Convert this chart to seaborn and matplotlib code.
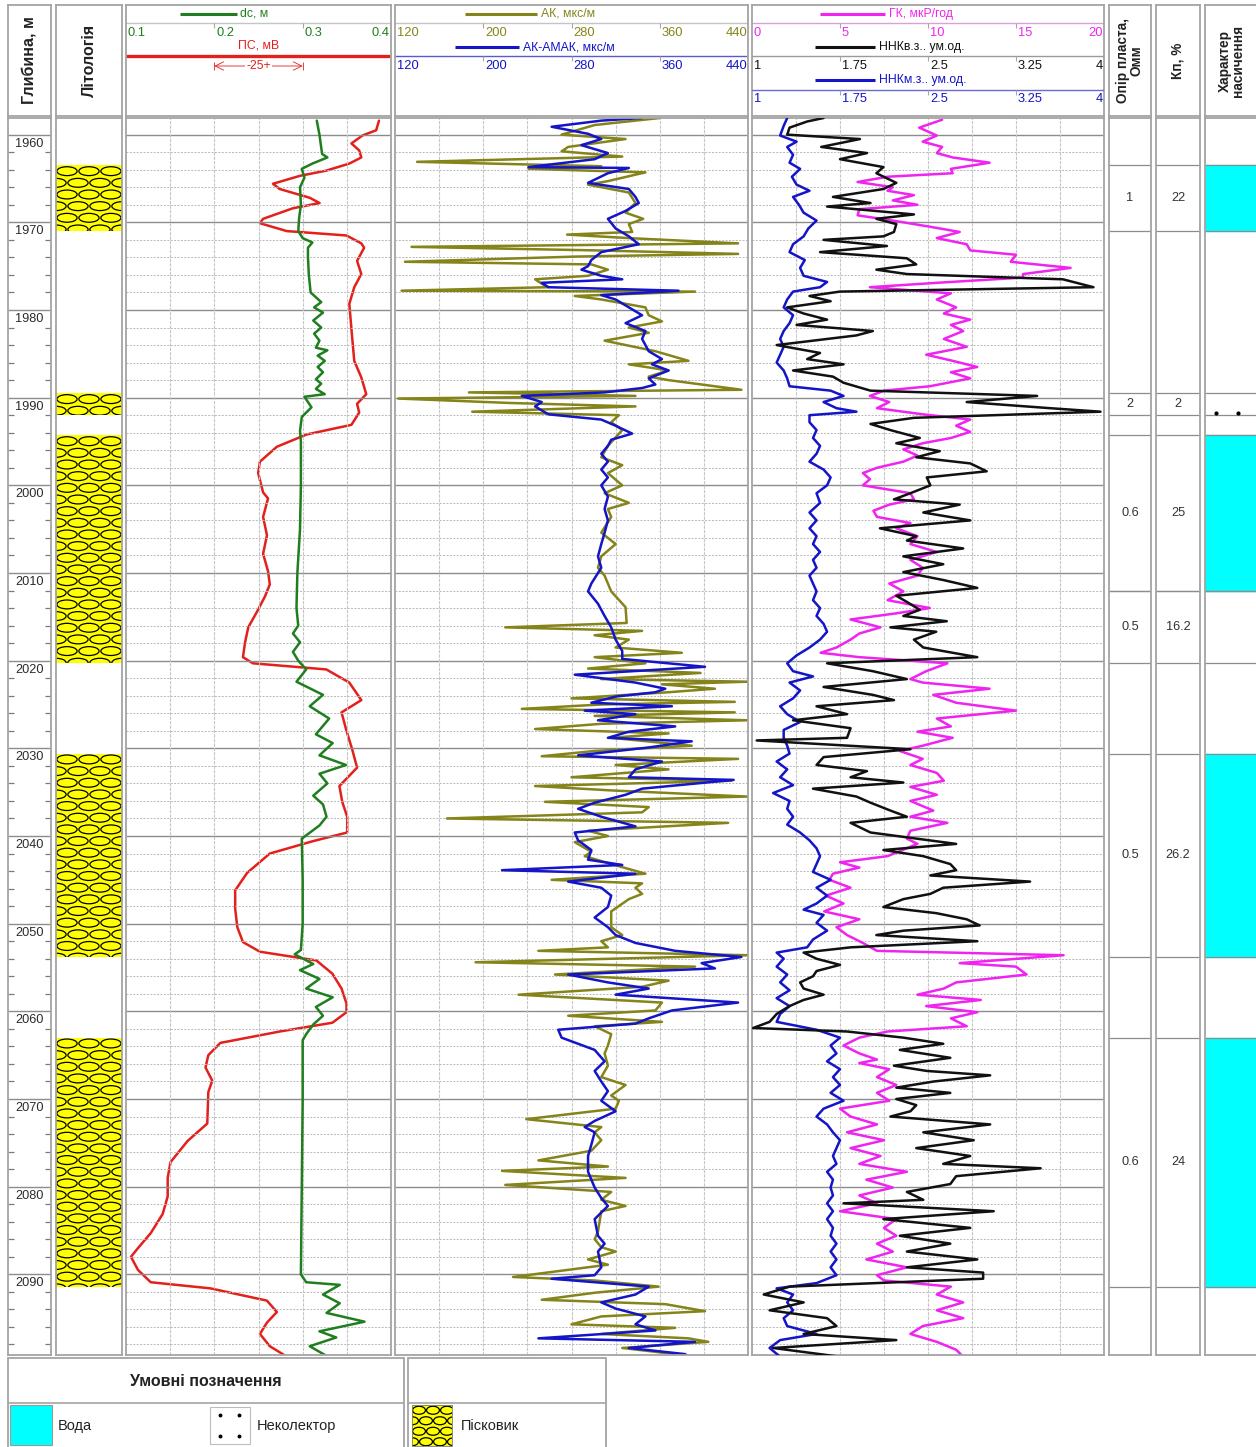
import numpy as np
import matplotlib
matplotlib.use("Agg")
import matplotlib.pyplot as plt
import seaborn as sns
from matplotlib.patches import Rectangle, Ellipse
from matplotlib.transforms import blended_transform_factory, offset_copy

sns.set_theme(style="white")
plt.rcParams['font.family'] = ['Liberation Sans', 'DejaVu Sans']

depth_top, depth_bottom = 1958.1, 2099.2
depth_ticks = list(range(1960, 2100, 10))

# dc, m
dc_depth = [1958.4, 1960.0, 1962.2, 1962.6, 1963.3, 1963.9, 1964.9, 1966.0, 1968.0, 1969.5,
            1971.0, 1971.8, 1972.3, 1972.9, 1974.0, 1976.0, 1978.0, 1979.1, 1979.7, 1980.3,
            1981.2, 1982.0, 1982.7, 1983.5, 1984.3, 1984.6, 1985.2, 1985.8, 1986.5, 1987.1,
            1987.9, 1988.4, 1989.0, 1989.6, 1989.9, 1991.1, 1992.2, 1993.8, 1995.0, 2000.0,
            2005.0, 2010.0, 2014.0, 2016.0, 2016.9, 2017.9, 2019.0, 2020.0, 2021.0, 2022.4,
            2023.9, 2025.2, 2026.6, 2028.4, 2029.4, 2030.8, 2031.9, 2032.9, 2034.0, 2035.4,
            2036.4, 2037.8, 2038.8, 2040.3, 2045.0, 2050.0, 2053.0, 2053.5, 2054.6, 2055.3,
            2056.3, 2057.4, 2058.4, 2059.5, 2060.5, 2061.5, 2062.6, 2063.3, 2070.0, 2080.0,
            2090.0, 2090.9, 2091.2, 2092.3, 2093.3, 2094.4, 2095.4, 2096.5, 2097.2, 2098.2,
            2099.3]
dc_val = [0.316, 0.319, 0.322, 0.328, 0.311, 0.299, 0.302, 0.297, 0.298, 0.296,
          0.295, 0.300, 0.311, 0.306, 0.306, 0.307, 0.309, 0.321, 0.313, 0.323,
          0.312, 0.321, 0.313, 0.319, 0.315, 0.328, 0.317, 0.325, 0.317, 0.323,
          0.315, 0.321, 0.315, 0.325, 0.302, 0.310, 0.299, 0.297, 0.298, 0.298,
          0.297, 0.294, 0.293, 0.295, 0.289, 0.297, 0.289, 0.295, 0.304, 0.293,
          0.323, 0.308, 0.330, 0.315, 0.334, 0.319, 0.349, 0.319, 0.328, 0.312,
          0.323, 0.327, 0.319, 0.299, 0.300, 0.300, 0.298, 0.291, 0.312, 0.297,
          0.319, 0.304, 0.334, 0.315, 0.323, 0.312, 0.304, 0.300, 0.300, 0.299,
          0.298, 0.304, 0.342, 0.323, 0.342, 0.327, 0.370, 0.319, 0.338, 0.308,
          0.327]

# ПС, mV (relative)
ps_depth = [1958.4, 1959.5, 1960.1, 1961.0, 1961.8, 1962.6, 1963.3, 1964.1, 1964.7, 1965.6,
            1966.2, 1967.2, 1967.8, 1968.4, 1969.6, 1970.1, 1971.0, 1971.5, 1972.4, 1972.9,
            1974.4, 1975.9, 1977.4, 1979.3, 1983.1, 1985.8, 1987.7, 1989.6, 1990.7, 1991.7,
            1993.1, 1994.2, 1995.6, 1997.3, 1998.6, 2000.8, 2001.5, 2003.6, 2005.7, 2007.8,
            2009.8, 2011.3, 2012.7, 2014.4, 2016.2, 2017.9, 2019.6, 2020.3, 2021.0, 2022.5,
            2024.5, 2025.9, 2028.0, 2030.1, 2032.2, 2034.3, 2036.1, 2037.8, 2039.6, 2040.6,
            2042.0, 2044.2, 2046.2, 2048.3, 2050.4, 2052.1, 2053.2, 2054.2, 2055.7, 2057.4,
            2059.1, 2060.1, 2061.3, 2062.3, 2063.6, 2065.0, 2066.4, 2067.9, 2069.2, 2072.8,
            2074.8, 2077.2, 2079.0, 2081.1, 2083.1, 2085.3, 2087.0, 2088.0, 2089.5, 2090.9,
            2091.6, 2093.0, 2094.3, 2095.5, 2096.8, 2098.2, 2099.8]
ps_mv = [-3.4, -4.2, -8.1, -11.2, -9.0, -8.4, -11.8, -18.3, -25.8, -33.4,
         -31.5, -23.0, -20.2, -27.8, -36.2, -37.1, -29.5, -12.6, -8.4, -7.6,
         -9.6, -8.4, -10.4, -11.8, -11.0, -10.4, -8.4, -7.0, -9.6, -9.0,
         -11.2, -23.9, -32.3, -37.1, -37.6, -36.2, -34.8, -36.2, -35.1, -36.2,
         -34.8, -34.3, -35.7, -37.9, -40.4, -41.3, -41.9, -39.1, -18.3, -11.8,
         -8.4, -14.0, -12.6, -11.0, -9.6, -14.6, -13.8, -12.4, -12.4, -22.2,
         -34.3, -40.7, -44.1, -44.1, -43.5, -41.9, -37.1, -21.1, -16.6, -14.0,
         -12.6, -12.6, -16.6, -31.5, -48.3, -51.7, -52.5, -50.6, -51.7, -52.0,
         -57.6, -62.4, -63.2, -63.2, -64.6, -68.0, -71.6, -73.6, -71.6, -68.0,
         -51.1, -35.1, -32.3, -35.1, -37.1, -34.3, -27.8]

# АК, мкс/м
ak_depth = [1958.1, 1958.9, 1960.0, 1960.5, 1961.4, 1961.9, 1962.5, 1963.1, 1963.6, 1963.9,
            1964.3, 1965.3, 1965.7, 1966.6, 1967.8, 1968.9, 1969.6, 1970.2, 1971.1, 1971.4,
            1971.8, 1972.4, 1972.8, 1973.2, 1973.6, 1973.9, 1974.5, 1974.8, 1975.4, 1976.1,
            1976.5, 1977.0, 1977.4, 1977.8, 1977.9, 1978.4, 1978.8, 1979.7, 1980.6, 1981.3,
            1982.0, 1982.6, 1983.5, 1984.7, 1985.8, 1986.2, 1986.9, 1987.6, 1988.0, 1989.1,
            1989.4, 1989.8, 1990.1, 1990.6, 1991.0, 1991.6, 1992.0, 1992.8, 1993.7, 1995.5,
            1996.8, 1997.7, 1998.6, 2000.0, 2000.9, 2002.0, 2002.7, 2003.6, 2005.4, 2006.7,
            2008.1, 2009.4, 2010.3, 2012.1, 2013.9, 2015.7, 2016.2, 2016.6, 2017.1, 2017.6,
            2018.5, 2019.1, 2019.6, 2020.3, 2020.9, 2021.4, 2022.1, 2022.4, 2022.7, 2023.2,
            2023.6, 2024.3, 2024.7, 2025.0, 2025.5, 2025.9, 2026.3, 2026.8, 2027.2, 2027.8,
            2028.3, 2028.8, 2029.7, 2030.3, 2030.9, 2031.2, 2031.9, 2032.4, 2033.3, 2033.7,
            2034.3, 2034.8, 2035.5, 2036.1, 2036.7, 2037.3, 2038.0, 2038.5, 2039.4, 2040.0,
            2040.7, 2041.8, 2042.3, 2043.2, 2044.3, 2045.0, 2045.4, 2045.9, 2046.6, 2047.2,
            2048.6, 2050.4, 2051.3, 2052.0, 2052.7, 2053.1, 2053.6, 2054.4, 2054.9, 2055.8,
            2056.5, 2057.2, 2058.1, 2059.0, 2059.9, 2060.5, 2061.2, 2061.7, 2062.6, 2063.9,
            2064.8, 2066.2, 2067.5, 2068.4, 2069.6, 2070.2, 2071.1, 2072.3, 2073.2, 2073.8,
            2074.7, 2075.9, 2077.0, 2077.7, 2078.2, 2079.0, 2079.8, 2080.6, 2081.5, 2082.2,
            2082.8, 2085.1, 2086.0, 2086.9, 2087.4, 2088.3, 2088.9, 2090.3, 2090.7, 2091.4,
            2092.1, 2092.9, 2093.4, 2094.2, 2094.8, 2095.7, 2096.1, 2096.8, 2097.3, 2097.7,
            2098.4, 2099.1, 2099.4]
ak_val = [360, 301, 271, 329, 277, 271, 326, 140, 307, 241,
          347, 313, 295, 332, 338, 329, 345, 332, 335, 276,
          332, 431, 135, 301, 431, 286, 129, 298, 313, 295,
          247, 253, 259, 126, 392, 283, 307, 347, 350, 362,
          332, 350, 310, 356, 386, 332, 368, 350, 368, 434,
          187, 338, 123, 223, 338, 190, 323, 316, 326, 313,
          307, 326, 313, 326, 310, 332, 313, 316, 307, 320,
          307, 304, 310, 316, 329, 330, 220, 344, 301, 332,
          320, 380, 301, 347, 295, 397, 307, 439, 362, 410,
          368, 280, 428, 307, 235, 428, 301, 439, 307, 247,
          368, 316, 389, 301, 253, 431, 320, 368, 280, 425,
          247, 316, 439, 256, 350, 344, 167, 422, 295, 313,
          283, 298, 292, 316, 347, 262, 344, 338, 344, 332,
          316, 316, 326, 307, 313, 250, 440, 193, 392, 265,
          368, 344, 232, 362, 356, 277, 362, 301, 316, 313,
          310, 313, 307, 329, 316, 323, 320, 239, 307, 301,
          307, 298, 250, 313, 217, 329, 220, 316, 307, 329,
          307, 304, 301, 307, 320, 295, 313, 227, 301, 359,
          301, 253, 365, 401, 307, 280, 374, 307, 386, 404,
          326, 374, 368]

# АК-АМАК, мкс/м
amak_depth = [1958.1, 1958.4, 1959.1, 1959.9, 1960.5, 1961.2, 1962.1, 1962.8, 1963.7, 1963.8,
              1964.4, 1965.5, 1966.2, 1967.1, 1967.8, 1968.7, 1969.6, 1970.7, 1971.6, 1972.5,
              1973.4, 1974.3, 1975.0, 1975.4, 1976.1, 1976.5, 1976.9, 1977.4, 1977.8, 1978.3,
              1978.8, 1979.7, 1980.6, 1981.5, 1982.4, 1983.3, 1984.7, 1985.6, 1986.2, 1986.9,
              1987.8, 1988.5, 1988.9, 1989.4, 1989.8, 1990.5, 1991.0, 1991.9, 1992.5, 1993.2,
              1994.1, 1994.8, 1995.5, 1996.4, 1997.3, 1998.2, 1999.1, 2000.0, 2001.3, 2002.7,
              2004.0, 2005.4, 2006.7, 2008.1, 2009.4, 2011.2, 2012.1, 2013.5, 2014.9, 2016.2,
              2017.6, 2018.9, 2019.8, 2020.7, 2021.6, 2022.5, 2023.2, 2023.6, 2024.1, 2024.8,
              2025.2, 2025.7, 2026.1, 2026.8, 2027.5, 2028.1, 2028.8, 2029.2, 2029.9, 2030.8,
              2031.5, 2032.4, 2033.3, 2033.6, 2034.6, 2035.3, 2036.2, 2036.9, 2037.8, 2038.9,
              2039.6, 2040.5, 2041.6, 2042.7, 2043.3, 2043.9, 2044.3, 2045.2, 2045.9, 2046.8,
              2048.1, 2049.3, 2050.4, 2051.3, 2052.2, 2053.1, 2053.8, 2054.5, 2055.1, 2055.8,
              2056.7, 2057.4, 2058.1, 2059.0, 2059.9, 2060.8, 2061.4, 2062.1, 2063.0, 2064.4,
              2065.7, 2066.8, 2068.0, 2069.1, 2070.2, 2071.4, 2072.5, 2073.2, 2073.8, 2075.2,
              2076.5, 2078.3, 2080.1, 2081.3, 2082.2, 2083.7, 2085.6, 2086.5, 2087.4, 2089.2,
              2090.1, 2090.5, 2091.4, 2092.3, 2093.2, 2093.9, 2094.8, 2095.7, 2096.4, 2097.3,
              2097.7, 2098.4, 2099.1, 2099.4]
amak_val = [344, 307, 262, 295, 307, 289, 313, 301, 241, 332,
            313, 295, 332, 338, 341, 329, 313, 320, 332, 341,
            307, 298, 295, 289, 307, 326, 253, 259, 377, 307,
            320, 332, 344, 329, 347, 344, 350, 362, 353, 368,
            350, 356, 344, 310, 235, 253, 247, 259, 307, 320,
            335, 316, 313, 307, 313, 307, 313, 307, 313, 310,
            313, 310, 307, 304, 307, 298, 295, 304, 310, 316,
            320, 326, 326, 401, 283, 338, 365, 356, 320, 298,
            371, 292, 338, 304, 374, 332, 313, 389, 350, 286,
            362, 338, 332, 427, 344, 329, 301, 286, 307, 338,
            283, 286, 298, 295, 326, 217, 338, 277, 307, 316,
            313, 301, 313, 320, 338, 374, 434, 398, 410, 277,
            313, 350, 320, 431, 371, 350, 338, 268, 271, 301,
            310, 301, 307, 313, 307, 320, 301, 292, 301, 298,
            295, 295, 301, 307, 313, 301, 304, 310, 304, 307,
            301, 262, 350, 338, 307, 320, 347, 338, 356, 250,
            392, 332, 383, 386]

# ГК, мкР/год
gk_depth = [1958.3, 1959.2, 1960.1, 1960.8, 1961.4, 1962.1, 1962.6, 1963.2, 1963.9, 1964.4,
            1964.8, 1965.4, 1966.0, 1966.4, 1966.9, 1967.5, 1968.0, 1968.5, 1969.2, 1969.8,
            1970.5, 1971.1, 1971.8, 1972.5, 1973.2, 1973.7, 1974.5, 1975.2, 1975.9, 1976.3,
            1976.9, 1977.4, 1978.1, 1978.8, 1979.7, 1980.4, 1981.1, 1981.7, 1982.4, 1983.3,
            1984.2, 1985.1, 1985.8, 1986.5, 1987.1, 1987.8, 1988.7, 1989.2, 1989.8, 1990.5,
            1991.2, 1991.9, 1992.5, 1993.2, 1993.9, 1994.6, 1995.2, 1995.9, 1996.6, 1997.3,
            1998.0, 1998.6, 1999.3, 2000.0, 2000.9, 2001.6, 2002.2, 2002.9, 2003.6, 2004.3,
            2004.9, 2005.8, 2006.7, 2007.6, 2008.5, 2009.4, 2010.3, 2011.2, 2012.1, 2013.1,
            2014.0, 2014.6, 2015.3, 2016.2, 2016.9, 2017.6, 2018.5, 2019.1, 2019.6, 2020.3,
            2021.2, 2022.1, 2022.5, 2023.2, 2023.9, 2024.8, 2025.7, 2026.6, 2027.5, 2028.1,
            2028.8, 2029.7, 2030.3, 2031.2, 2031.9, 2032.8, 2033.7, 2034.4, 2035.3, 2036.0,
            2037.1, 2037.8, 2038.5, 2039.4, 2040.3, 2040.9, 2042.3, 2043.0, 2043.6, 2044.3,
            2045.0, 2045.9, 2046.8, 2047.7, 2048.6, 2049.5, 2050.4, 2051.3, 2052.2, 2053.1,
            2053.6, 2054.5, 2054.9, 2055.8, 2056.7, 2057.4, 2058.1, 2058.7, 2059.4, 2060.1,
            2060.8, 2061.7, 2062.3, 2063.0, 2063.9, 2064.8, 2065.5, 2065.9, 2066.6, 2067.5,
            2068.4, 2069.3, 2070.2, 2071.1, 2072.0, 2072.9, 2073.8, 2074.7, 2075.6, 2076.5,
            2077.4, 2078.3, 2079.2, 2080.1, 2081.0, 2081.9, 2082.8, 2083.7, 2084.7, 2085.6,
            2086.5, 2087.4, 2088.3, 2089.2, 2090.1, 2090.7, 2091.4, 2092.3, 2093.2, 2094.1,
            2095.0, 2095.9, 2096.8, 2097.7, 2098.6, 2099.4]
gk_val = [10.8, 9.5, 10.5, 9.7, 10.8, 10.5, 11.4, 13.5, 11.3, 11.4,
          7.7, 6.0, 8.0, 7.7, 9.2, 8.0, 9.4, 6.1, 6.0, 8.0,
          10.1, 11.8, 10.5, 12.2, 12.4, 15.0, 14.7, 18.1, 15.4, 15.4,
          10.5, 6.7, 11.3, 10.5, 11.6, 10.9, 12.4, 11.3, 12.0, 10.9,
          12.2, 9.9, 11.4, 12.8, 11.3, 12.4, 10.1, 7.5, 6.7, 7.8,
          7.1, 9.7, 12.4, 11.6, 12.4, 11.3, 9.7, 8.6, 9.4, 8.6,
          7.1, 6.3, 6.7, 6.3, 9.0, 9.2, 7.8, 6.9, 7.1, 9.0,
          8.2, 9.4, 9.0, 10.5, 9.0, 9.7, 9.4, 7.8, 8.6, 7.7,
          10.1, 8.2, 5.6, 7.3, 6.1, 5.6, 4.8, 3.9, 6.1, 11.1,
          9.9, 9.0, 9.7, 13.5, 10.3, 11.6, 15.0, 10.5, 11.3, 9.4,
          11.4, 9.7, 8.4, 9.7, 9.0, 10.5, 10.9, 9.0, 10.5, 9.0,
          10.3, 9.0, 11.1, 9.0, 8.8, 9.4, 7.7, 5.0, 6.1, 4.6,
          4.4, 5.6, 4.2, 5.2, 4.1, 6.1, 4.8, 5.4, 6.3, 7.1,
          17.7, 11.8, 15.0, 15.6, 11.6, 10.9, 9.4, 13.0, 9.9, 12.8,
          11.3, 12.2, 7.7, 6.1, 5.2, 6.1, 7.1, 6.1, 7.8, 7.1,
          8.2, 7.1, 7.8, 5.0, 5.6, 7.1, 5.4, 7.5, 5.6, 7.3,
          6.1, 8.8, 6.5, 8.0, 6.1, 7.1, 5.0, 8.2, 7.5, 8.2,
          7.1, 8.0, 6.5, 8.8, 7.1, 7.5, 11.3, 10.5, 12.0, 10.5,
          12.0, 9.7, 9.0, 10.5, 11.6, 12.0]

# ННК в.з., ум.од.
nvz_depth = [1958.1, 1958.5, 1959.2, 1960.0, 1960.5, 1961.4, 1962.1, 1962.8, 1963.7, 1964.4,
             1965.5, 1966.2, 1967.1, 1967.8, 1968.2, 1969.1, 1969.6, 1970.2, 1971.1, 1971.6,
             1972.0, 1972.7, 1973.4, 1974.1, 1974.8, 1975.4, 1975.9, 1976.5, 1977.4, 1977.9,
             1978.4, 1979.0, 1979.7, 1980.4, 1981.1, 1981.7, 1982.4, 1982.9, 1984.0, 1984.9,
             1985.6, 1986.2, 1986.9, 1987.6, 1988.3, 1989.2, 1989.8, 1990.5, 1991.2, 1991.6,
             1992.3, 1993.0, 1993.7, 1994.6, 1995.2, 1996.1, 1996.8, 1997.5, 1998.4, 1999.1,
             2000.0, 2000.9, 2001.6, 2002.2, 2003.1, 2004.0, 2004.9, 2005.8, 2006.3, 2007.2,
             2008.1, 2009.0, 2009.9, 2010.8, 2011.7, 2012.6, 2013.3, 2014.2, 2014.9, 2015.5,
             2016.2, 2016.7, 2017.6, 2018.5, 2019.6, 2020.3, 2021.2, 2022.1, 2023.0, 2023.9,
             2024.5, 2025.2, 2026.1, 2026.8, 2027.7, 2028.8, 2029.1, 2030.1, 2031.0, 2031.9,
             2032.6, 2033.3, 2033.9, 2034.6, 2035.5, 2036.2, 2037.1, 2037.8, 2038.5, 2039.6,
             2040.3, 2040.9, 2041.6, 2042.3, 2043.2, 2043.9, 2044.5, 2045.2, 2045.9, 2046.6,
             2047.2, 2048.1, 2048.8, 2049.5, 2050.2, 2050.8, 2051.3, 2052.0, 2052.7, 2053.3,
             2054.0, 2054.7, 2055.4, 2056.0, 2056.7, 2057.4, 2058.1, 2058.7, 2059.4, 2060.3,
             2061.2, 2061.9, 2062.3, 2063.0, 2063.7, 2064.4, 2065.3, 2066.2, 2066.8, 2067.3,
             2068.0, 2068.7, 2069.3, 2070.0, 2070.7, 2071.4, 2072.0, 2072.9, 2073.8, 2074.7,
             2075.6, 2076.5, 2077.4, 2077.9, 2078.8, 2079.7, 2080.6, 2081.5, 2081.9, 2082.8,
             2083.7, 2084.7, 2085.6, 2086.5, 2087.4, 2088.3, 2089.2, 2089.8, 2090.5, 2091.4,
             2092.3, 2093.2, 2094.1, 2095.0, 2095.9, 2096.8, 2097.5, 2098.4, 2099.4]
nvz_val = [1.61, 1.47, 1.32, 1.30, 1.92, 1.59, 1.98, 1.75, 2.12, 2.06,
           2.23, 2.12, 1.69, 2.01, 1.64, 2.38, 2.06, 2.23, 2.21, 2.12,
           1.61, 2.15, 1.58, 2.32, 2.40, 2.06, 2.32, 3.65, 3.91, 1.75,
           1.49, 1.67, 1.30, 1.44, 1.64, 1.38, 2.03, 1.89, 1.21, 1.58,
           1.47, 1.78, 1.35, 1.69, 1.78, 2.01, 3.43, 2.83, 3.54, 3.97,
           2.38, 2.01, 2.18, 2.43, 2.23, 2.60, 2.40, 2.86, 3.00, 2.49,
           2.52, 2.35, 2.21, 2.77, 2.46, 2.86, 2.09, 2.40, 2.32, 2.80,
           2.29, 2.63, 2.29, 2.63, 2.92, 2.23, 2.32, 2.43, 2.29, 2.66,
           2.18, 2.57, 2.38, 2.46, 2.92, 1.64, 2.03, 2.32, 1.61, 2.03,
           2.21, 1.55, 1.81, 1.35, 1.84, 1.81, 1.04, 2.35, 1.61, 1.55,
           1.98, 1.84, 2.29, 1.52, 1.89, 2.01, 2.18, 2.32, 1.84, 2.01,
           2.40, 2.74, 2.12, 2.46, 2.69, 2.74, 2.52, 3.37, 2.63, 2.52,
           2.29, 2.12, 2.57, 2.83, 2.94, 2.29, 2.06, 2.92, 1.84, 1.44,
           1.55, 1.75, 1.55, 1.52, 1.41, 1.44, 1.61, 1.44, 1.32, 1.21,
           1.15, 1.01, 1.81, 2.29, 2.63, 2.26, 2.69, 2.21, 2.49, 3.03,
           2.55, 2.23, 2.69, 2.23, 2.40, 2.35, 2.18, 3.03, 2.46, 2.89,
           2.40, 2.86, 2.63, 3.46, 2.74, 2.69, 2.32, 2.46, 1.78, 3.06,
           2.12, 2.86, 2.26, 2.69, 2.32, 2.92, 2.32, 2.97, 2.97, 1.32,
           1.10, 1.44, 1.15, 1.64, 1.72, 1.44, 2.23, 1.18, 1.75]

# ННК м.з., ум.од.
nmz_depth = [1958.1, 1959.0, 1960.1, 1960.8, 1961.4, 1962.3, 1963.2, 1963.9, 1964.8, 1965.7,
             1966.4, 1967.1, 1968.0, 1968.9, 1969.8, 1970.7, 1971.6, 1972.5, 1973.4, 1974.3,
             1975.2, 1976.1, 1976.8, 1977.4, 1977.9, 1978.8, 1979.7, 1980.6, 1981.5, 1982.4,
             1983.3, 1984.2, 1985.1, 1986.0, 1986.9, 1987.8, 1988.7, 1989.2, 1989.8, 1990.5,
             1991.2, 1991.6, 1992.0, 1992.8, 1993.7, 1994.6, 1995.5, 1996.4, 1997.3, 1998.2,
             1999.1, 2000.0, 2000.9, 2002.0, 2003.1, 2004.0, 2004.9, 2005.8, 2006.7, 2007.6,
             2008.5, 2009.4, 2010.3, 2011.2, 2012.1, 2013.1, 2014.0, 2014.9, 2015.8, 2016.7,
             2017.6, 2018.5, 2019.4, 2020.3, 2021.2, 2021.8, 2022.5, 2023.4, 2024.3, 2025.2,
             2026.1, 2027.0, 2027.9, 2028.8, 2029.7, 2030.6, 2031.5, 2032.4, 2033.3, 2034.2,
             2035.1, 2036.0, 2036.9, 2037.8, 2038.7, 2039.6, 2040.5, 2041.4, 2042.3, 2043.2,
             2044.1, 2045.0, 2045.9, 2046.8, 2047.7, 2048.4, 2049.0, 2049.9, 2050.8, 2051.8,
             2052.7, 2053.3, 2054.0, 2054.9, 2055.8, 2056.7, 2057.6, 2058.5, 2059.4, 2060.3,
             2061.2, 2062.1, 2063.0, 2063.9, 2064.8, 2065.7, 2066.6, 2067.5, 2068.4, 2069.3,
             2070.2, 2071.1, 2072.0, 2072.9, 2073.8, 2074.7, 2075.6, 2076.5, 2077.4, 2078.3,
             2079.2, 2080.1, 2081.0, 2081.9, 2082.8, 2083.7, 2084.7, 2085.6, 2086.5, 2087.4,
             2088.3, 2089.2, 2090.1, 2091.0, 2091.6, 2092.3, 2093.2, 2094.1, 2095.0, 2095.9,
             2096.8, 2097.5, 2098.4, 2099.4]
nmz_val = [1.30, 1.27, 1.24, 1.38, 1.30, 1.35, 1.32, 1.41, 1.34, 1.38,
           1.49, 1.35, 1.40, 1.44, 1.55, 1.48, 1.44, 1.35, 1.32, 1.45,
           1.41, 1.44, 1.64, 1.58, 1.35, 1.30, 1.27, 1.35, 1.32, 1.27,
           1.24, 1.27, 1.24, 1.21, 1.27, 1.30, 1.32, 1.67, 1.78, 1.61,
           1.72, 1.89, 1.49, 1.49, 1.55, 1.52, 1.58, 1.55, 1.49, 1.61,
           1.67, 1.64, 1.55, 1.58, 1.49, 1.55, 1.49, 1.55, 1.52, 1.58,
           1.52, 1.55, 1.49, 1.52, 1.55, 1.52, 1.58, 1.55, 1.61, 1.64,
           1.58, 1.49, 1.38, 1.30, 1.35, 1.52, 1.32, 1.41, 1.35, 1.24,
           1.30, 1.41, 1.27, 1.27, 1.30, 1.32, 1.21, 1.30, 1.24, 1.35,
           1.18, 1.32, 1.30, 1.35, 1.30, 1.41, 1.49, 1.55, 1.58, 1.55,
           1.52, 1.67, 1.55, 1.64, 1.55, 1.44, 1.61, 1.55, 1.64, 1.52,
           1.47, 1.21, 1.27, 1.21, 1.30, 1.24, 1.32, 1.21, 1.32, 1.24,
           1.21, 1.55, 1.75, 1.67, 1.72, 1.64, 1.75, 1.69, 1.75, 1.67,
           1.78, 1.61, 1.55, 1.64, 1.69, 1.75, 1.72, 1.69, 1.72, 1.64,
           1.69, 1.67, 1.69, 1.64, 1.69, 1.64, 1.69, 1.67, 1.72, 1.67,
           1.72, 1.67, 1.72, 1.55, 1.21, 1.35, 1.30, 1.35, 1.27, 1.30,
           1.55, 1.24, 1.15, 1.24]

# interpreted layers
layer_top = [1963.5, 1989.5, 1994.3, 2012.0, 2030.6, 2063.0]
layer_bottom = [1971.0, 1992.0, 2012.0, 2020.3, 2053.8, 2091.4]
layer_rp = [1, 2, 0.6, 0.5, 0.5, 0.6]
layer_kp = [22, 2, 25, 16.2, 26.2, 24]
layer_sat = ['water', 'noncollector', 'water', None, 'water', 'water']
sand_top = [1963.5, 1989.5, 1994.3, 2030.6, 2063.0]
sand_bottom = [1971.0, 1992.0, 2020.3, 2053.8, 2091.4]

dc_ticks = [0.1, 0.2, 0.3, 0.4]
ak_ticks = [120, 200, 280, 360, 440]
gk_ticks = [0, 5, 10, 15, 20]
nnk_ticks = [1, 1.75, 2.5, 3.25, 4]

# ---------------- styling ----------------
GREEN = '#1f7f1f'
RED = '#e3201b'
OLIVE = '#84841a'
BLUE = '#1414c8'
MAGENTA = '#f024f0'
BLACK = '#111111'
CYAN = '#00ffff'
YELLOW = '#ffff00'
FRAME = '#a4a4a4'
LW = 1.8

W, H = 1256, 1447
HEAD_TOP, HEAD_BOT = 5, 116
BODY_TOP, BODY_BOT = 118, 1355

fig = plt.figure(figsize=(W / 100, H / 100), dpi=100)


def box(x0, x1, y0, y1):
    ax = fig.add_axes([x0 / W, 1 - y1 / H, (x1 - x0) / W, (y1 - y0) / H])
    ax.set_xticks([])
    ax.set_yticks([])
    for s in ax.spines.values():
        s.set_color(FRAME)
        s.set_linewidth(1.3)
    return ax


def body(x0, x1, lim=(0, 1)):
    ax = box(x0, x1, BODY_TOP, BODY_BOT)
    ax.set_xlim(*lim)
    ax.set_ylim(depth_bottom, depth_top)
    return ax


def track(x0, x1, lim, ndiv):
    ax = body(x0, x1, lim)
    for d in np.arange(1960, 2100, 2):
        ax.axhline(d, color='#b8b8b8', lw=0.7, ls=(0, (2, 1.5)), zorder=0)
    for d in depth_ticks:
        ax.axhline(d, color='#8c8c8c', lw=1.0, zorder=0)
    for v in np.linspace(lim[0], lim[1], ndiv + 1)[1:-1]:
        ax.axvline(v, color='#c6c6c6', lw=0.8, ls=(0, (3, 1)), zorder=0)
    return ax


def curve(ax, x, y, color, lw=LW):
    sns.lineplot(x=np.array(x, float), y=np.array(y, float), ax=ax, sort=False,
                 estimator=None, orient='y', color=color, lw=lw, legend=False)
    ax.set_xlabel('')
    ax.set_ylabel('')
    ax.set_xticks([])
    ax.set_yticks([])


def twin(ax, lim):
    t = ax.twiny()
    t.set_xlim(*lim)
    t.set_xticks([])
    for s in t.spines.values():
        s.set_visible(False)
    return t


def header(x0, x1, lim):
    ax = box(x0, x1, HEAD_TOP, HEAD_BOT)
    ax.set_xlim(*lim)
    ax.set_ylim(HEAD_BOT, HEAD_TOP)
    return ax


def legend_row(ax, f0, f1, y, label, color):
    tr = blended_transform_factory(ax.transAxes, ax.transData)
    ax.plot([f0, f1], [y, y], color=color, lw=2.2, transform=tr, solid_capstyle='butt')
    ax.text(f1 + 0.012, y, label, color=color, fontsize=8.8, va='center', ha='left', transform=tr)


def scale_row(ax, ticks, y, color):
    tl = offset_copy(ax.transData, fig=fig, x=2, y=0, units='dots')
    trr = offset_copy(ax.transData, fig=fig, x=-1, y=0, units='dots')
    for t in ticks[:-1]:
        ax.text(t, y, f'{t:g}', color=color, fontsize=9.3, ha='left', va='center', transform=tl)
    ax.text(ticks[-1], y, f'{ticks[-1]:g}', color=color, fontsize=9.3, ha='right', va='center',
            transform=trr)


def rule(ax, y, color, ticks, lw=1.0):
    ax.axhline(y, color=color, lw=lw)
    ax.vlines(ticks[1:-1], y, y + 5, color='#a8a8a8', lw=0.8)


def sandstone(ax, x0, x1, y0, y1, cw, ch, lw=0.9):
    base = Rectangle((x0, y0), x1 - x0, y1 - y0, facecolor=YELLOW, edgecolor='none', zorder=1)
    ax.add_patch(base)
    n_rows = int(np.ceil(abs(y1 - y0) / ch)) + 1
    for r in range(n_rows):
        yc = y0 + (r + 0.5) * ch
        xc = x0 - (cw / 2 if r % 2 else 0)
        while xc <= x1:
            e = Ellipse((xc + cw / 2, yc), cw * 0.92, ch * 0.76, facecolor=YELLOW,
                        edgecolor='black', lw=lw, zorder=2)
            ax.add_patch(e)
            e.set_clip_path(base)
            xc += cw


# ---------------- headers ----------------
hd = box(8, 51, HEAD_TOP, HEAD_BOT)
hd.text(0.5, 0.5, 'Глибина, м', rotation=90, ha='center', va='center', fontsize=11.5,
        fontweight='bold', color='#222222', transform=hd.transAxes)
hl = box(56, 122, HEAD_TOP, HEAD_BOT)
hl.text(0.5, 0.5, 'Літологія', rotation=90, ha='center', va='center', fontsize=11.5,
        fontweight='bold', color='#222222', transform=hl.transAxes)

h1 = header(126, 391, (dc_ticks[0], dc_ticks[-1]))
legend_row(h1, 0.205, 0.42, 14, 'dc, м', GREEN)
rule(h1, 23, '#c4c4c4', dc_ticks)
scale_row(h1, dc_ticks, 33, GREEN)
h1.text(0.25, 45, 'ПС, мВ', color=RED, fontsize=8.8, ha='center', va='center')
h1.axhline(56, color=RED, lw=2.4)
h1.annotate('', xy=(0.2, 66), xytext=(0.3, 66),
            arrowprops=dict(arrowstyle='<->,head_length=0.5,head_width=0.25', color=RED,
                            lw=0.6, shrinkA=0, shrinkB=0))
h1.vlines([0.2, 0.3], 62, 70, color=RED, lw=0.6)
h1.text(0.25, 66, '-25+', color=RED, fontsize=8.8, ha='center', va='center',
        bbox=dict(facecolor='white', edgecolor='none', pad=0.6))

h2 = header(395, 748, (ak_ticks[0], ak_ticks[-1]))
legend_row(h2, 0.198, 0.402, 14, 'АК, мкс/м', OLIVE)
rule(h2, 23, '#c4c4c4', ak_ticks)
scale_row(h2, ak_ticks, 33, OLIVE)
legend_row(h2, 0.17, 0.35, 47, 'АК-АМАК, мкс/м', BLUE)
rule(h2, 56, '#5a5ad0', ak_ticks)
scale_row(h2, ak_ticks, 66, BLUE)

h3 = header(752, 1104, (gk_ticks[0], gk_ticks[-1]))
h3b = twin(h3, (nnk_ticks[0], nnk_ticks[-1]))
legend_row(h3, 0.193, 0.378, 14, 'ГК, мкР/год', MAGENTA)
rule(h3, 23, '#d9a0d9', gk_ticks)
scale_row(h3, gk_ticks, 33, MAGENTA)
legend_row(h3, 0.179, 0.349, 47, 'ННКв.з.. ум.од.', BLACK)
rule(h3b, 56, '#9a9a9a', nnk_ticks)
scale_row(h3b, nnk_ticks, 66, BLACK)
legend_row(h3, 0.179, 0.349, 80, 'ННКм.з.. ум.од.', BLUE)
rule(h3b, 90, '#6a6ad6', nnk_ticks)
scale_row(h3b, nnk_ticks, 99, BLUE)

for x0, x1, txt in [(1109, 1151, 'Опір пласта,\nОмм'), (1156, 1200, 'Кп, %'),
                    (1205, 1258, 'Характер\nнасичення')]:
    hx = box(x0, x1, HEAD_TOP, HEAD_BOT)
    hx.text(0.5, 0.5, txt, rotation=90, ha='center', va='center', fontsize=9.8,
            fontweight='bold', color='#222222', linespacing=0.95, transform=hx.transAxes)

# ---------------- depth track ----------------
ad = body(8, 51)
for d in np.arange(1960, 2100, 2):
    if d % 10 == 0:
        ad.axhline(d, color='#8c8c8c', lw=1.0)
        ad.text(0.5, d + 0.35, str(d), ha='center', va='top', fontsize=9.2, color='#2a2a2a')
    else:
        ad.hlines(d, 0, 0.14, color='#7a7a7a', lw=0.9)
        ad.hlines(d, 0.86, 1, color='#7a7a7a', lw=0.9)

# ---------------- lithology ----------------
al = body(56, 122)
for t, b in zip(sand_top, sand_bottom):
    sandstone(al, 0, 1, t, b, 0.333, 1.33)

# ---------------- track 1: dc + PS ----------------
a1 = track(126, 391, (dc_ticks[0], dc_ticks[-1]), 6)
a1b = twin(a1, (-75, 0))
curve(a1b, ps_mv, ps_depth, RED)
curve(a1, dc_val, dc_depth, GREEN)
a1.set_zorder(a1b.get_zorder() + 1)
a1.patch.set_visible(False)
a1b.patch.set_visible(True)
a1b.patch.set_facecolor('white')
a1.set_xlim(dc_ticks[0], dc_ticks[-1])
a1b.set_xlim(-75, 0)
a1.set_ylim(depth_bottom, depth_top)

# ---------------- track 2: AK ----------------
a2 = track(395, 748, (ak_ticks[0], ak_ticks[-1]), 8)
curve(a2, ak_val, ak_depth, OLIVE)
curve(a2, amak_val, amak_depth, BLUE)
a2.set_xlim(ak_ticks[0], ak_ticks[-1])
a2.set_ylim(depth_bottom, depth_top)

# ---------------- track 3: GK + NNK ----------------
a3 = track(752, 1104, (gk_ticks[0], gk_ticks[-1]), 8)
a3b = twin(a3, (nnk_ticks[0], nnk_ticks[-1]))
curve(a3, gk_val, gk_depth, MAGENTA)
curve(a3b, nmz_val, nmz_depth, BLUE)
curve(a3b, nvz_val, nvz_depth, BLACK)
a3.set_xlim(gk_ticks[0], gk_ticks[-1])
a3b.set_xlim(nnk_ticks[0], nnk_ticks[-1])
a3.set_ylim(depth_bottom, depth_top)

# ---------------- interpretation columns ----------------
arp = body(1109, 1151)
akp = body(1156, 1200)
asat = body(1205, 1258)
for t, b, rp, kp, sat in zip(layer_top, layer_bottom, layer_rp, layer_kp, layer_sat):
    mid = (t + b) / 2
    for ax in (arp, akp, asat):
        ax.axhline(t, color='#8c8c8c', lw=0.9)
        ax.axhline(b, color='#8c8c8c', lw=0.9)
    arp.text(0.5, mid, f'{rp:g}', ha='center', va='center', fontsize=9.2, color='#333333')
    akp.text(0.5, mid, f'{kp:g}', ha='center', va='center', fontsize=9.2, color='#333333')
    if sat == 'water':
        asat.axhspan(t, b, color=CYAN, zorder=0)
    elif sat == 'noncollector':
        asat.plot([0.21, 0.63], [b - 0.3, b - 0.3], ls='none', marker='o', ms=2, color='black')

# ---------------- legend ----------------
lg = fig.add_axes([0, 0, 1, (H - 1356) / H])
lg.set_xlim(0, W)
lg.set_ylim(H, 1356)
lg.axis('off')
lg.add_patch(Rectangle((8, 1358), 396, 100, facecolor='white', edgecolor=FRAME, lw=1.3))
lg.add_patch(Rectangle((408, 1358), 198, 100, facecolor='white', edgecolor=FRAME, lw=1.3))
lg.plot([8, 404], [1403, 1403], color=FRAME, lw=1.2)
lg.plot([408, 606], [1403, 1403], color=FRAME, lw=1.2)
lg.text(206, 1382, 'Умовні позначення', ha='center', va='center', fontsize=11.5,
        fontweight='bold', color='#222222')
lg.add_patch(Rectangle((10, 1405), 42, 40, facecolor=CYAN, edgecolor='#9a9a9a', lw=0.8))
lg.text(58, 1426, 'Вода', ha='left', va='center', fontsize=10.5, color='#222222')
lg.add_patch(Rectangle((210, 1407), 40, 37, facecolor='white', edgecolor='#bdbdbd', lw=0.8))
lg.plot([220, 239, 220, 239], [1415, 1415, 1436, 1436], ls='none', marker='o', ms=1.8, color='black')
lg.text(257, 1426, 'Неколектор', ha='left', va='center', fontsize=10.5, color='#222222')
sandstone(lg, 412, 452, 1405, 1446, 14, 10.5)
lg.add_patch(Rectangle((412, 1405), 40, 41, facecolor='none', edgecolor='#7a7a7a', lw=0.6, zorder=3))
lg.text(461, 1426, 'Пісковик', ha='left', va='center', fontsize=10.5, color='#222222')

fig.savefig('out.png', dpi=100)
